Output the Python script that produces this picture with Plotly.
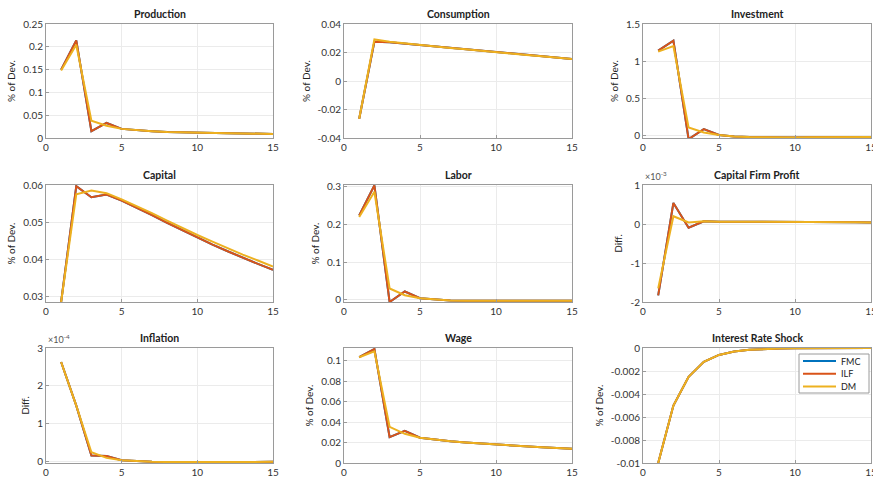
import plotly.graph_objects as go
from plotly.subplots import make_subplots

t = list(range(1, 16))

titles = ["Production", "Consumption", "Investment",
          "Capital", "Labor", "Capital Firm Profit",
          "Inflation", "Wage", "Interest Rate Shock"]
ylabels = ["% of Dev.", "% of Dev.", "% of Dev.",
           "% of Dev.", "% of Dev.", "Diff.",
           "Diff.", "% of Dev.", "% of Dev."]

# ILF series (FMC identical, hidden beneath)
production_ilf = [0.150, 0.214, 0.015, 0.033, 0.020, 0.017, 0.015, 0.013, 0.012, 0.0115, 0.011, 0.0105, 0.010, 0.0095, 0.009]
production_dm = [0.148, 0.2045, 0.038, 0.027, 0.020, 0.017, 0.015, 0.013, 0.012, 0.0115, 0.011, 0.0105, 0.010, 0.0095, 0.009]

consumption_ilf = [-0.0265, 0.0276, 0.0272, 0.0262, 0.0253, 0.0243, 0.0232, 0.0222, 0.0211, 0.0201, 0.0192, 0.0182, 0.0173, 0.0164, 0.0155]
consumption_dm = [-0.0265, 0.0292, 0.0276, 0.0264, 0.0253, 0.0243, 0.0232, 0.0222, 0.0211, 0.0201, 0.0192, 0.0182, 0.0173, 0.0164, 0.0155]

investment_ilf = [1.143, 1.277, -0.045, 0.090, 0.010, -0.010, -0.018, -0.022, -0.022, -0.022, -0.021, -0.020, -0.018, -0.017, -0.015]
investment_dm = [1.130, 1.205, 0.110, 0.045, 0.010, -0.010, -0.018, -0.022, -0.022, -0.022, -0.021, -0.020, -0.018, -0.017, -0.015]

capital_ilf = [0.0284, 0.0597, 0.0567, 0.0574, 0.0558, 0.0539, 0.0519, 0.0498, 0.0478, 0.0458, 0.0439, 0.0421, 0.0403, 0.0387, 0.0371]
capital_dm = [0.0284, 0.0575, 0.0585, 0.0578, 0.0561, 0.0543, 0.0524, 0.0504, 0.0484, 0.0465, 0.0447, 0.0429, 0.0412, 0.0396, 0.0380]

labor_ilf = [0.224, 0.304, -0.006, 0.022, 0.004, 0.000, -0.002, -0.003, -0.003, -0.003, -0.003, -0.003, -0.003, -0.003, -0.003]
labor_dm = [0.220, 0.287, 0.030, 0.012, 0.004, 0.000, -0.002, -0.003, -0.003, -0.003, -0.003, -0.003, -0.003, -0.003, -0.003]

profit_ilf = [-0.00183, 0.00054, -0.000095, 0.00007, 0.00006, 0.00006, 0.00006, 0.00006, 0.00006, 0.00006, 0.000055, 0.00005, 0.00005, 0.000045, 0.00004]
profit_dm = [-0.00165, 0.00020, 0.00004, 0.00007, 0.00006, 0.00006, 0.00006, 0.00006, 0.00006, 0.00006, 0.000055, 0.00005, 0.00005, 0.000045, 0.00004]

inflation_ilf = [2.63e-4, 1.48e-4, 0.16e-4, 0.15e-4, 0.04e-4, 0.015e-4, 0.0, -0.01e-4, -0.01e-4, -0.01e-4, -0.01e-4, -0.01e-4, -0.01e-4, -0.01e-4, -0.005e-4]
inflation_dm = [2.63e-4, 1.48e-4, 0.25e-4, 0.10e-4, 0.04e-4, 0.015e-4, 0.0, -0.01e-4, -0.01e-4, -0.01e-4, -0.01e-4, -0.01e-4, -0.01e-4, -0.01e-4, -0.005e-4]

wage_ilf = [0.1032, 0.1112, 0.0253, 0.0314, 0.0247, 0.0228, 0.0212, 0.0200, 0.0190, 0.0176, 0.0168, 0.0160, 0.0153, 0.0146, 0.0138]
wage_dm = [0.1032, 0.1090, 0.0353, 0.0285, 0.0247, 0.0228, 0.0212, 0.0200, 0.0190, 0.0176, 0.0168, 0.0160, 0.0153, 0.0146, 0.0138]

rate_all = [-0.0100, -0.0050, -0.0025, -0.0012, -0.0006, -0.0003, -0.00016, -0.00008, -0.00004, -0.00002, -0.00001, 0.0, 0.0, 0.0, 0.0]

series_ilf = [production_ilf, consumption_ilf, investment_ilf, capital_ilf, labor_ilf,
              profit_ilf, inflation_ilf, wage_ilf, rate_all]
series_dm = [production_dm, consumption_dm, investment_dm, capital_dm, labor_dm,
             profit_dm, inflation_dm, wage_dm, rate_all]
series_fmc = series_ilf

y_ranges = [[0, 0.25], [-0.04, 0.04], [-0.03, 1.5],
            [0.0284, 0.0600], [-0.006, 0.305], [-0.002, 0.001],
            [-0.035e-4, 3e-4], [0, 0.1122], [-0.01, 0.0]]
y_ticks = [[0, 0.05, 0.1, 0.15, 0.2, 0.25], [-0.04, -0.02, 0, 0.02, 0.04], [0, 0.5, 1, 1.5],
           [0.03, 0.04, 0.05, 0.06], [0, 0.1, 0.2, 0.3], [-0.002, -0.001, 0, 0.001],
           [0, 1e-4, 2e-4, 3e-4], [0, 0.02, 0.04, 0.06, 0.08, 0.1],
           [-0.01, -0.008, -0.006, -0.004, -0.002, 0]]
y_ticktext = [["0", "0.05", "0.1", "0.15", "0.2", "0.25"], ["-0.04", "-0.02", "0", "0.02", "0.04"],
              ["0", "0.5", "1", "1.5"], ["0.03", "0.04", "0.05", "0.06"], ["0", "0.1", "0.2", "0.3"],
              ["-2", "-1", "0", "1"], ["0", "1", "2", "3"],
              ["0", "0.02", "0.04", "0.06", "0.08", "0.1"],
              ["-0.01", "-0.008", "-0.006", "-0.004", "-0.002", "0"]]
exponents = {5: "\u00d710<sup>-3</sup>", 6: "\u00d710<sup>-4</sup>"}
x_ticks = [0, 5, 10, 15]

names = ["FMC", "ILF", "DM"]
colors = ["#0072BD", "#D95319", "#EDB120"]

W, H = 873, 478
col_px = [(46, 273), (344, 572), (643, 871)]
row_px = [(24, 138), (185, 302), (348, 463)]

FONT = "Lato, 'Open Sans', sans-serif"
fig = make_subplots(rows=3, cols=3)

for i in range(9):
    r, c = i // 3 + 1, i % 3 + 1
    for name, color, data in zip(names, colors, [series_fmc[i], series_ilf[i], series_dm[i]]):
        fig.add_trace(go.Scatter(x=t, y=data, mode="lines", name=name,
                                 line=dict(color=color, width=2),
                                 legendgroup=name, showlegend=False,
                                 hoverinfo="skip"), row=r, col=c)

for i in range(9):
    r, c = i // 3, i % 3
    xl, xr = col_px[c]
    yt, yb = row_px[r]
    sfx = "" if i == 0 else str(i + 1)
    fig.layout["xaxis" + sfx].update(
        domain=[xl / W, xr / W], range=[0, 15], tickvals=x_ticks, automargin=False,
        ticklabeloverflow="allow",
        showgrid=True, gridcolor="#ebebeb", zeroline=False,
        showline=True, linecolor="#9a9a9a", linewidth=1, mirror=True,
        ticks="inside", ticklen=3, tickcolor="#9a9a9a",
        tickfont=dict(family=FONT, size=10, color="#333333"))
    fig.layout["yaxis" + sfx].update(
        domain=[1 - yb / H, 1 - yt / H], range=y_ranges[i], automargin=False,
        ticklabeloverflow="allow",
        tickvals=y_ticks[i], ticktext=y_ticktext[i],
        showgrid=True, gridcolor="#ebebeb", zeroline=False,
        showline=True, linecolor="#9a9a9a", linewidth=1, mirror=True,
        ticks="inside", ticklen=3, tickcolor="#9a9a9a",
        tickfont=dict(family=FONT, size=10, color="#333333"),
        title=dict(text=ylabels[i], font=dict(family=FONT, size=10, color="#222222"), standoff=5))
    fig.add_annotation(text=titles[i], xref="paper", yref="paper",
                       x=(xl + xr) / 2 / W, y=1 - (yt - 2) / H,
                       xanchor="center", yanchor="bottom", showarrow=False,
                       font=dict(family=FONT, size=10.5, color="#222222", weight="bold"))
    if i in exponents:
        fig.add_annotation(text=exponents[i], xref="paper", yref="paper",
                           x=xl / W, y=1 - (yt - 1) / H,
                           xanchor="left", yanchor="bottom", showarrow=False,
                           font=dict(family=FONT, size=9, color="#555555"))

# legend box (drawn compactly, as in the reference)
lx0, lx1, ly0, ly1 = 799, 869, 354, 393
fig.add_shape(type="rect", xref="paper", yref="paper",
              x0=lx0 / W, x1=lx1 / W, y0=1 - ly1 / H, y1=1 - ly0 / H,
              line=dict(color="#9a9a9a", width=1), fillcolor="white", layer="above")
for k, (name, color) in enumerate(zip(names, colors)):
    yy = 1 - (361 + 12.8 * k) / H
    fig.add_shape(type="line", xref="paper", yref="paper",
                  x0=803 / W, x1=836 / W, y0=yy, y1=yy,
                  line=dict(color=color, width=2), layer="above")
    fig.add_annotation(text=name, xref="paper", yref="paper", x=839 / W, y=yy,
                       xanchor="left", yanchor="middle", showarrow=False,
                       font=dict(family=FONT, size=9, color="#222222"))

fig.update_layout(
    width=W, height=H, margin=dict(l=0, r=0, t=0, b=0),
    paper_bgcolor="white", plot_bgcolor="white",
    font=dict(family=FONT, size=10, color="#222222"),
    showlegend=False,
)

fig.write_html("out.html", config={"displayModeBar": False},
               post_script="document.body.style.margin='0';document.body.style.overflow='hidden';")
